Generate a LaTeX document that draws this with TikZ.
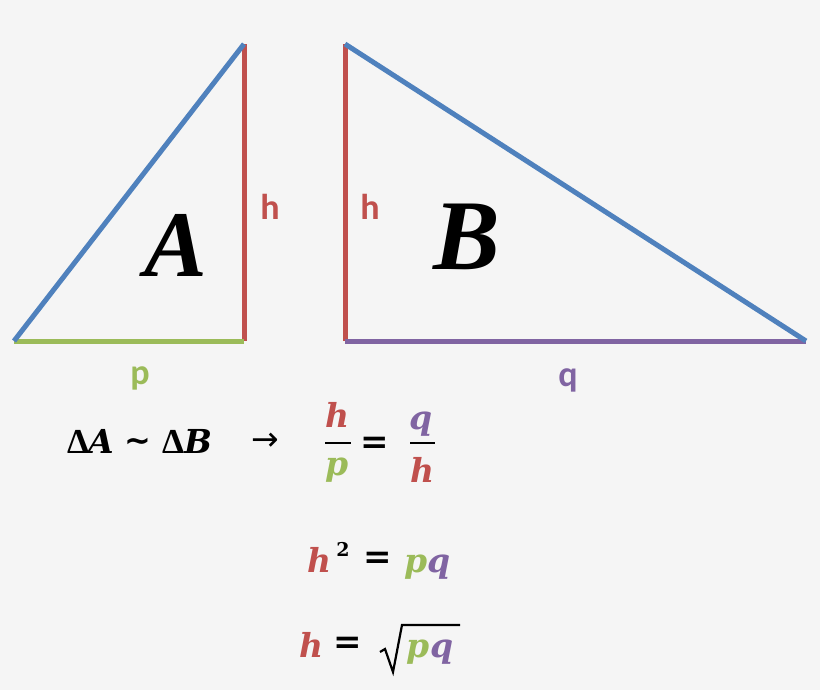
\documentclass[tikz,border=0pt]{standalone}
\usepackage{fontspec}
\setmainfont{Liberation Serif}
\newfontfamily\lblfont{Carlito}
\newfontfamily\symfont{DejaVu Sans}
\newfontfamily\eqfont{DejaVu Serif}
\definecolor{bgc}{HTML}{F5F5F5}
\definecolor{cblue}{HTML}{4F81BD}
\definecolor{cred}{HTML}{C0504D}
\definecolor{cgreen}{HTML}{9BBB59}
\definecolor{cpurple}{HTML}{8064A2}
\begin{document}
\begin{tikzpicture}[x=1pt,y=-1pt,
  edge/.style={line width=5pt},
  lbl/.style={font=\lblfont\bfseries\fontsize{36}{36}\selectfont, inner sep=0pt},
  big/.style={font=\bfseries\itshape\fontsize{94}{94}\selectfont, inner sep=0pt},
  eq/.style={font=\eqfont\bfseries\itshape\fontsize{33}{40}\selectfont, inner sep=0pt, anchor=base},
  eqd/.style={font=\bfseries\fontsize{35}{40}\selectfont, inner sep=0pt, anchor=base},
  eqs/.style={font=\eqfont\bfseries\fontsize{34}{40}\selectfont, inner sep=0pt, anchor=base},
  bar/.style={line width=2.5pt}]
\fill[bgc] (0,0) rectangle (820,690);
\useasboundingbox (0,0) rectangle (820,690);
% triangle A
\coordinate (a1) at (14,341);
\coordinate (a2) at (244,44);
\coordinate (a3) at (244,341);
\draw[edge, cred] (a3) -- (a2);
\draw[edge, cgreen] (a1) -- (a3);
\draw[edge, cblue] (a1) -- (a2);
% triangle B
\coordinate (b1) at (345,44);
\coordinate (b2) at (345,341);
\coordinate (b3) at (806,341);
\draw[edge, cred] (b2) -- (b1);
\draw[edge, cpurple] (b2) -- (b3);
\draw[edge, cblue] (b1) -- (b3);
% labels
\node[lbl, text=cred] (hA) at (270,207) {h};
\node[lbl, text=cred] (hB) at (370,207) {h};
\node[lbl, text=cgreen] (pl) at (140,378) {p};
\node[lbl, text=cpurple] (ql) at (568,380) {q};
\node[big] (A) at (176,245) {A};
\node[big, font=\bfseries\itshape\fontsize{100}{100}\selectfont] (B) at (467,237) {B};
% equation 1
\node[eqd] (d1) at (78,453) {Δ};
\node[eq] (sA) at (101,453) {A};
\node[font=\symfont\bfseries\fontsize{32}{32}\selectfont, inner sep=0pt] (tl) at (138,445) {∼};
\node[eqd] (d2) at (173,453) {Δ};
\node[eq] (sB) at (198,453) {B};
\node[font=\symfont\fontsize{33}{33}\selectfont, inner sep=0pt] (arr) at (265,442) {→};
\node[eq, text=cred] (f1n) at (337,427) {h};
\coordinate (f1l) at (325,443);
\coordinate (f1r) at (351,443);
\draw[bar] (f1l) -- (f1r);
\node[eq, text=cgreen] (f1d) at (337,475) {p};
\node[eqs, anchor=center] (eq1) at (375,445) {=};
\node[eq, text=cpurple] (f2n) at (421,429) {q};
\coordinate (f2l) at (410,443);
\coordinate (f2r) at (435,443);
\draw[bar] (f2l) -- (f2r);
\node[eq, text=cred] (f2d) at (422,482) {h};
% equation 2
\node[eq, text=cred] (e2h) at (319,572) {h};
\node[eqs, font=\eqfont\bfseries\fontsize{19}{19}\selectfont] (e2s) at (343,556) {2};
\node[eqs, anchor=center] (e2eq) at (378,560) {=};
\node[eq, text=cgreen] (e2p) at (416,572) {p};
\node[eq, text=cpurple] (e2q) at (439,572) {q};
% equation 3
\node[eq, text=cred] (e3h) at (311,657) {h};
\node[eqs, anchor=center] (e3eq) at (348,645) {=};
\coordinate (r0) at (380,652);
\coordinate (r1) at (385,649);
\coordinate (r2) at (393,672);
\coordinate (r3) at (402,625);
\coordinate (r4) at (460,625);
\draw[line width=2.2pt, line join=miter] (r0) -- (r1) -- (r2) -- (r3) -- (r4);
\node[eq, text=cgreen] (e3p) at (418,657) {p};
\node[eq, text=cpurple] (e3q) at (442,657) {q};
\end{tikzpicture}
\end{document}
